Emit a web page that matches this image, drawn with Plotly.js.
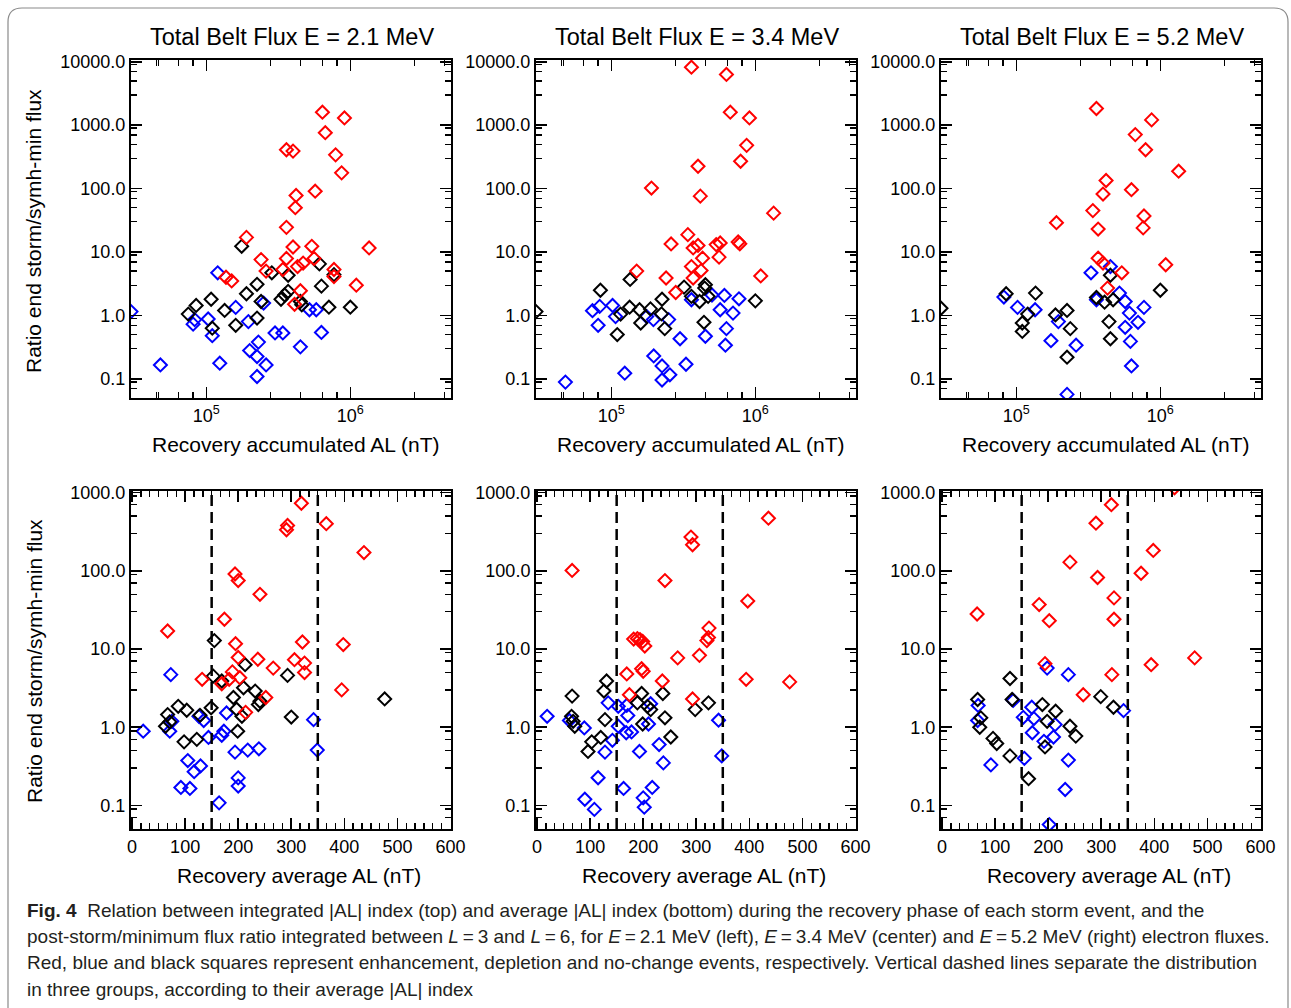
<!DOCTYPE html>
<html>
<head>
<meta charset="utf-8">
<script src="https://cdn.plot.ly/plotly-3.0.1.min.js"></script>
<style>
html,body{margin:0;padding:0;background:#fff;}
#chart{width:1291px;height:1008px;}
</style>
</head>
<body>
<div id="chart"></div>
<script>
// ---------------- DATA ----------------
// Top row: x = recovery accumulated AL (nT), y = ratio end storm / symh-min flux
// E = 2.1 MeV
const top21RedX   = [6.4e5, 9.1e5, 6.7e5, 3.6e5, 4.0e5, 7.9e5, 8.7e5, 5.7e5, 4.2e5, 4.15e5, 3.6e5, 1.9e5, 4.0e5, 5.4e5, 1.35e6, 2.4e5, 3.6e5, 5.6e5, 4.3e5, 4.7e5, 3.4e5, 2.6e5, 7.7e5, 1.37e5, 1.5e5, 7.7e5, 1.1e6, 4.5e5, 4.1e5];
const top21RedY   = [1600, 1300, 760, 410, 390, 340, 177, 91, 78, 50, 24.5, 17, 12, 12.3, 11.6, 7.6, 7.9, 7.9, 5.9, 6.7, 5.3, 5.0, 5.3, 4.0, 3.5, 4.1, 3.0, 2.45, 1.5];
const top21BlackX = [1.76e5, 6.1e5, 2.85e5, 3.7e5, 7.7e5, 2.25e5, 6.3e5, 1.9e5, 3.7e5, 3.5e5, 3.3e5, 1.08e5, 8.5e4, 2.4e5, 4.5e5, 4.6e5, 1.34e5, 7.5e4, 7.1e5, 1.0e6, 2.25e5, 1.1e5, 1.6e5];
const top21BlackY = [12.3, 6.5, 4.7, 4.3, 4.4, 3.1, 2.9, 2.2, 2.4, 2.1, 1.8, 1.8, 1.44, 1.66, 1.66, 1.47, 1.2, 1.05, 1.35, 1.35, 0.91, 0.63, 0.7];
const top21BlueX  = [1.2e5, 1.6e5, 2.5e5, 3.0e4, 1.03e5, 8.3e4, 8.1e4, 1.1e5, 1.96e5, 5.2e5, 5.8e5, 3.0e5, 3.4e5, 6.3e5, 2.3e5, 2.0e5, 2.25e5, 4.5e5, 1.24e5, 4.8e4, 2.6e5, 2.25e5];
const top21BlueY  = [4.7, 1.34, 1.57, 1.15, 0.88, 0.86, 0.73, 0.48, 0.8, 1.23, 1.23, 0.53, 0.53, 0.54, 0.38, 0.28, 0.225, 0.32, 0.177, 0.166, 0.166, 0.109];
// E = 3.4 MeV
const top34RedX   = [3.6e5, 6.3e5, 6.7e5, 9.1e5, 8.7e5, 7.9e5, 4.0e5, 1.9e5, 4.15e5, 1.34e6, 3.4e5, 2.6e5, 3.7e5, 4.0e5, 5.35e5, 5.7e5, 7.6e5, 7.8e5, 4.3e5, 5.6e5, 3.6e5, 4.2e5, 1.5e5, 2.4e5, 3.7e5, 1.09e6, 2.8e5];
const top34RedY   = [8200, 6300, 1600, 1300, 480, 270, 225, 102, 76, 41, 18.8, 13.4, 11.6, 12.7, 13.1, 13.9, 14.4, 13.5, 8.0, 8.3, 5.9, 5.1, 5.0, 3.9, 3.9, 4.2, 2.3];
const top34BlackX = [8.4e4, 1.35e5, 3.2e5, 4.5e5, 4.45e5, 3.6e5, 4.1e5, 4.7e5, 2.25e5, 1.0e6, 1.34e5, 1.57e5, 1.87e5, 1.16e5, 2.23e5, 1.6e5, 2.35e5, 4.4e5, 1.1e5, 3.0e4];
const top34BlackY = [2.5, 3.7, 2.8, 3.05, 2.7, 2.0, 1.66, 2.0, 1.8, 1.7, 1.35, 1.23, 1.27, 1.05, 1.06, 0.76, 0.62, 0.78, 0.5, 1.15];
const top34BlueX  = [7.4e4, 8.3e4, 1.02e5, 1.07e5, 8.1e4, 1.76e5, 1.96e5, 2.5e5, 3.0e5, 3.6e5, 5.0e5, 6.1e5, 7.7e5, 5.7e5, 7.0e5, 4.5e5, 6.3e5, 6.2e5, 1.97e5, 2.25e5, 3.3e5, 2.55e5, 2.25e5, 1.24e5, 4.8e4];
const top34BlueY  = [1.19, 1.39, 1.44, 0.96, 0.7, 0.96, 0.86, 0.86, 0.43, 1.77, 2.1, 2.07, 1.83, 1.23, 1.09, 0.47, 0.62, 0.34, 0.23, 0.16, 0.17, 0.116, 0.096, 0.123, 0.089];
// E = 5.2 MeV
const top52RedX   = [3.6e5, 8.7e5, 6.7e5, 7.9e5, 1.34e6, 4.2e5, 4.0e5, 6.3e5, 3.4e5, 7.7e5, 1.9e5, 3.7e5, 7.6e5, 3.7e5, 4.0e5, 5.4e5, 1.09e6, 4.3e5];
const top52RedY   = [1830, 1210, 710, 410, 188, 134, 82, 96, 45, 37, 29, 23, 24, 8.0, 6.7, 4.7, 6.3, 2.7];
const top52BlackX = [8.5e4, 1.36e5, 4.5e5, 3.6e5, 4.1e5, 4.7e5, 1.0e6, 1.2e5, 1.1e5, 1.1e5, 1.87e5, 2.25e5, 2.37e5, 4.4e5, 4.5e5, 2.25e5, 3.0e4];
const top52BlackY = [2.2, 2.25, 4.3, 1.92, 1.62, 1.77, 2.5, 1.05, 0.76, 0.56, 1.02, 1.2, 0.62, 0.8, 0.43, 0.22, 1.3];
const top52BlueX  = [8.2e4, 1.02e5, 1.35e5, 1.96e5, 1.74e5, 2.6e5, 3.3e5, 4.5e5, 3.6e5, 5.2e5, 5.7e5, 6.1e5, 7.7e5, 7.0e5, 5.7e5, 6.2e5, 6.3e5, 2.25e5];
const top52BlueY  = [1.95, 1.34, 1.23, 0.8, 0.4, 0.34, 4.7, 5.9, 1.77, 2.25, 1.66, 1.09, 1.34, 0.78, 0.65, 0.39, 0.16, 0.057];

// Bottom row: x = recovery average AL (nT)
// E = 2.1 MeV
const bot21RedX   = [319, 293, 291, 366, 437, 194, 200, 241, 174, 67, 195, 321, 398, 200, 237, 306, 325, 325, 266, 189, 203, 183, 132, 169, 252, 395, 214];
const bot21RedY   = [730, 380, 335, 400, 171, 91, 75, 50, 24, 17, 11.7, 12.3, 11.4, 7.8, 7.4, 7.3, 6.6, 5.0, 5.7, 5.1, 4.3, 4.1, 4.1, 3.6, 2.4, 3.0, 1.55];
const bot21BlackX = [155, 153, 169, 213, 293, 191, 210, 232, 238, 241, 197, 207, 149, 128, 103, 87, 67, 71, 63, 300, 199, 98, 122, 476];
const bot21BlackY = [12.8, 4.5, 3.9, 6.3, 4.6, 2.4, 3.2, 2.9, 1.95, 2.15, 1.7, 1.38, 1.77, 1.42, 1.65, 1.85, 1.45, 1.17, 1.03, 1.35, 0.89, 0.65, 0.7, 2.3];
const bot21BlueX  = [73, 21, 71, 75, 126, 135, 178, 173, 169, 144, 194, 218, 239, 342, 349, 105, 117, 129, 92, 109, 200, 200, 164];
const bot21BlueY  = [4.7, 0.89, 0.89, 1.19, 1.38, 1.22, 1.52, 0.89, 0.79, 0.74, 0.48, 0.51, 0.53, 1.25, 0.51, 0.375, 0.27, 0.32, 0.17, 0.165, 0.225, 0.177, 0.108];
// E = 3.4 MeV
const bot34RedX   = [436, 290, 293, 66, 241, 397, 324, 320, 323, 182, 189, 194, 199, 203, 265, 306, 197, 200, 169, 236, 394, 476, 174, 293];
const bot34RedY   = [470, 270, 215, 101, 75, 41, 18.5, 12.8, 14, 13.4, 13.6, 13.2, 12.5, 10.9, 7.7, 8.3, 5.6, 5.2, 4.8, 3.9, 4.1, 3.8, 2.6, 2.3];
const bot34BlackX = [131, 126, 66, 197, 237, 189, 208, 214, 323, 298, 241, 128, 65, 68, 71, 199, 120, 103, 96, 252];
const bot34BlackY = [3.9, 2.9, 2.5, 2.7, 2.7, 2.05, 1.85, 1.68, 2.05, 1.68, 1.32, 1.25, 1.38, 1.19, 1.03, 1.1, 0.74, 0.65, 0.49, 0.75];
const bot34BlueX  = [19, 61, 89, 134, 153, 169, 171, 214, 153, 168, 178, 210, 142, 128, 193, 230, 238, 342, 348, 115, 90, 108, 163, 200, 202, 217];
const bot34BlueY  = [1.38, 1.22, 0.98, 2.05, 1.85, 1.9, 1.41, 2.0, 1.03, 0.85, 0.87, 1.1, 0.68, 0.48, 0.49, 0.6, 0.35, 1.23, 0.43, 0.226, 0.12, 0.089, 0.165, 0.125, 0.095, 0.17];
// E = 5.2 MeV
const bot52RedX   = [319, 290, 398, 241, 375, 293, 324, 183, 66, 202, 324, 476, 394, 194, 320, 266, 438];
const bot52RedY   = [700, 406, 182, 129, 93, 82, 45, 37, 28, 23, 24, 7.7, 6.3, 6.5, 4.7, 2.6, 1150];
const bot52BlackX = [128, 67, 132, 189, 214, 198, 299, 323, 73, 71, 241, 252, 96, 103, 128, 194, 163];
const bot52BlackY = [4.2, 2.26, 2.26, 1.95, 1.6, 1.19, 2.46, 1.8, 1.32, 1.0, 1.03, 0.77, 0.72, 0.62, 0.43, 0.56, 0.22];
const bot52BlueX  = [68, 67, 134, 169, 153, 173, 198, 238, 342, 170, 213, 192, 210, 155, 238, 92, 232, 202];
const bot52BlueY  = [1.9, 1.22, 2.2, 1.8, 1.34, 1.29, 5.7, 4.7, 1.63, 0.85, 1.08, 0.66, 0.75, 0.4, 0.38, 0.33, 0.16, 0.057];

// Labels
const panelTitles = ['Total Belt Flux E = 2.1 MeV', 'Total Belt Flux E = 3.4 MeV', 'Total Belt Flux E = 5.2 MeV'];
const topXTitle = 'Recovery accumulated AL (nT)';
const botXTitle = 'Recovery average AL (nT)';
const yTitle = 'Ratio end storm/symh-min flux';
const topYTickVals = [0.1, 1, 10, 100, 1000, 10000];
const topYTickText = ['0.1', '1.0', '10.0', '100.0', '1000.0', '10000.0'];
const botYTickVals = [0.1, 1, 10, 100, 1000];
const botYTickText = ['0.1', '1.0', '10.0', '100.0', '1000.0'];
const topXTickVals = [1e5, 1e6];
const topXTickText = ['10<sup>5</sup>', '10<sup>6</sup>'];
const groupSeparators = [150, 350];
const captionLines = [
  '<b>Fig. 4</b>  Relation between integrated |AL| index (top) and average |AL| index (bottom) during the recovery phase of each storm event, and the',
  'post-storm/minimum flux ratio integrated between <i>L</i>\u2009=\u20093 and <i>L</i>\u2009=\u20096, for <i>E</i>\u2009=\u20092.1 MeV (left), <i>E</i>\u2009=\u20093.4 MeV (center) and <i>E</i>\u2009=\u20095.2 MeV (right) electron fluxes.',
  'Red, blue and black squares represent enhancement, depletion and no-change events, respectively. Vertical dashed lines separate the distribution',
  'in three groups, according to their average |AL| index'
];

// ---------------- LAYOUT / RENDER ----------------
const W = 1291, H = 1008;
const fx = p => p / W;
const fy = p => 1 - p / H;
const FONT = 'Liberation Sans, Arial, sans-serif';
const RED = '#ff0000', BLUE = '#0000ff', BLACK = '#000000';

function mk(x, y, color, n) {
  return {
    type: 'scatter', mode: 'markers', x: x, y: y,
    xaxis: 'x' + (n === 1 ? '' : n), yaxis: 'y' + (n === 1 ? '' : n),
    marker: {symbol: 'diamond-open', size: 10, color: color, line: {width: 2, color: color}},
    showlegend: false, hoverinfo: 'x+y'
  };
}

const sets = [
  [top21BlueX, top21BlueY, top21BlackX, top21BlackY, top21RedX, top21RedY],
  [top34BlueX, top34BlueY, top34BlackX, top34BlackY, top34RedX, top34RedY],
  [top52BlueX, top52BlueY, top52BlackX, top52BlackY, top52RedX, top52RedY],
  [bot21BlueX, bot21BlueY, bot21BlackX, bot21BlackY, bot21RedX, bot21RedY],
  [bot34BlueX, bot34BlueY, bot34BlackX, bot34BlackY, bot34RedX, bot34RedY],
  [bot52BlueX, bot52BlueY, bot52BlackX, bot52BlackY, bot52RedX, bot52RedY]
];
const traces = [];
sets.forEach((s, i) => {
  traces.push(mk(s[0], s[1], BLUE, i + 1));
  traces.push(mk(s[2], s[3], BLACK, i + 1));
  traces.push(mk(s[4], s[5], RED, i + 1));
});

const colL = [131, 536, 941];
const colR = [451, 856, 1261];
const topRow = [60, 398];
const botRow = [491, 829];

function minorLog(lo, hi, mults) {
  const out = [];
  for (let e = lo; e <= hi; e++) mults.forEach(m => out.push(m * Math.pow(10, e)));
  return out;
}

const axisCommon = {
  showline: true, linewidth: 2, linecolor: '#000', mirror: 'allticks',
  ticks: 'inside', ticklen: 11, tickwidth: 1.6, tickcolor: '#000',
  showgrid: false, zeroline: false,
  tickfont: {family: FONT, size: 18, color: '#000'}
};

const layout = {
  width: W, height: H,
  margin: {l: 0, r: 0, t: 0, b: 0},
  paper_bgcolor: '#fff', plot_bgcolor: '#fff',
  font: {family: FONT, color: '#000'},
  showlegend: false,
  annotations: [], shapes: []
};

for (let c = 0; c < 3; c++) {
  const nT = c + 1, nB = c + 4;
  const sT = nT === 1 ? '' : String(nT);
  const sB = String(nB);
  layout['xaxis' + sT] = Object.assign({}, axisCommon, {
    domain: [fx(colL[c]), fx(colR[c])], anchor: 'y' + sT,
    type: 'log', range: [Math.log10(3e4), Math.log10(5e6)],
    tickmode: 'array', tickvals: topXTickVals, ticktext: topXTickText,
    minor: {ticks: 'inside', ticklen: 6, tickwidth: 1.4, tickcolor: '#000',
            tickvals: minorLog(4, 6, [2.8, 4.5, 6.4, 8.1]).concat([4.65e4])}
  });
  layout['yaxis' + sT] = Object.assign({}, axisCommon, {
    domain: [fy(topRow[1]), fy(topRow[0])], anchor: 'x' + sT,
    type: 'log', range: [Math.log10(0.05), 4.027],
    tickmode: 'array', tickvals: topYTickVals, ticktext: topYTickText,
    minor: {ticks: 'inside', ticklen: 6, tickwidth: 1.4, tickcolor: '#000',
            tickvals: minorLog(-2, 3, [3, 5, 7, 9])}
  });
  layout['xaxis' + sB] = Object.assign({}, axisCommon, {
    domain: [fx(colL[c]), fx(colR[c])], anchor: 'y' + sB,
    type: 'linear', range: [-2, 601],
    tickmode: 'linear', tick0: 0, dtick: 100,
    minor: {ticks: 'inside', ticklen: 6, tickwidth: 1.4, tickcolor: '#000', tick0: 0, dtick: 100 / 6}
  });
  layout['yaxis' + sB] = Object.assign({}, axisCommon, {
    domain: [fy(botRow[1]), fy(botRow[0])], anchor: 'x' + sB,
    type: 'log', range: [Math.log10(0.05), 3.02],
    tickmode: 'array', tickvals: botYTickVals, ticktext: botYTickText,
    minor: {ticks: 'inside', ticklen: 6, tickwidth: 1.4, tickcolor: '#000',
            tickvals: minorLog(-2, 2, [3, 5, 7, 9])}
  });

  const cx = (colL[c] + colR[c]) / 2;
  layout.annotations.push({text: panelTitles[c], xref: 'paper', yref: 'paper', x: fx(cx + 1), y: fy(37),
    xanchor: 'center', yanchor: 'middle', showarrow: false, font: {family: FONT, size: 23.5, color: '#000'}});
  layout.annotations.push({text: topXTitle, xref: 'paper', yref: 'paper', x: fx(cx + 5), y: fy(444),
    xanchor: 'center', yanchor: 'middle', showarrow: false, font: {family: FONT, size: 21, color: '#000'}});
  layout.annotations.push({text: botXTitle, xref: 'paper', yref: 'paper', x: fx(cx + 8), y: fy(875),
    xanchor: 'center', yanchor: 'middle', showarrow: false, font: {family: FONT, size: 21, color: '#000'}});

  groupSeparators.forEach(v => {
    layout.shapes.push({type: 'line', xref: 'x' + sB, yref: 'y' + sB + ' domain', x0: v, x1: v, y0: 0, y1: 1,
      line: {color: '#000', width: 2.5, dash: '11px,6px'}});
  });
}

// y-axis titles (left column only)
[231, 661].forEach(p => {
  layout.annotations.push({text: yTitle, xref: 'paper', yref: 'paper', x: fx(34), y: fy(p),
    xanchor: 'center', yanchor: 'middle', textangle: -90, showarrow: false,
    font: {family: FONT, size: 21, color: '#000'}});
});

// caption
const capY = [910, 936, 962, 989];
captionLines.forEach((t, i) => {
  layout.annotations.push({text: t, xref: 'paper', yref: 'paper', x: fx(25), y: fy(capY[i]),
    xanchor: 'left', yanchor: 'middle', showarrow: false, align: 'left',
    font: {family: 'Liberation Sans Narrow, Arial Narrow, Liberation Sans, sans-serif', size: 19, color: '#231f20'}});
});

// card border (rounded top corners)
(function () {
  const x0 = fx(8), x1 = fx(1288), yt = fy(8), yb = fy(1030);
  const rx = 14 / W, ry = 14 / H;
  layout.shapes.push({type: 'path', xref: 'paper', yref: 'paper', layer: 'below',
    path: `M ${x0},${yb} L ${x0},${yt - ry} Q ${x0},${yt} ${x0 + rx},${yt} L ${x1 - rx},${yt} Q ${x1},${yt} ${x1},${yt - ry} L ${x1},${yb}`,
    line: {color: '#8a8a8a', width: 1.2}});
})();

Plotly.newPlot('chart', traces, layout, {staticPlot: true, displayModeBar: false});
</script>
</body>
</html>
